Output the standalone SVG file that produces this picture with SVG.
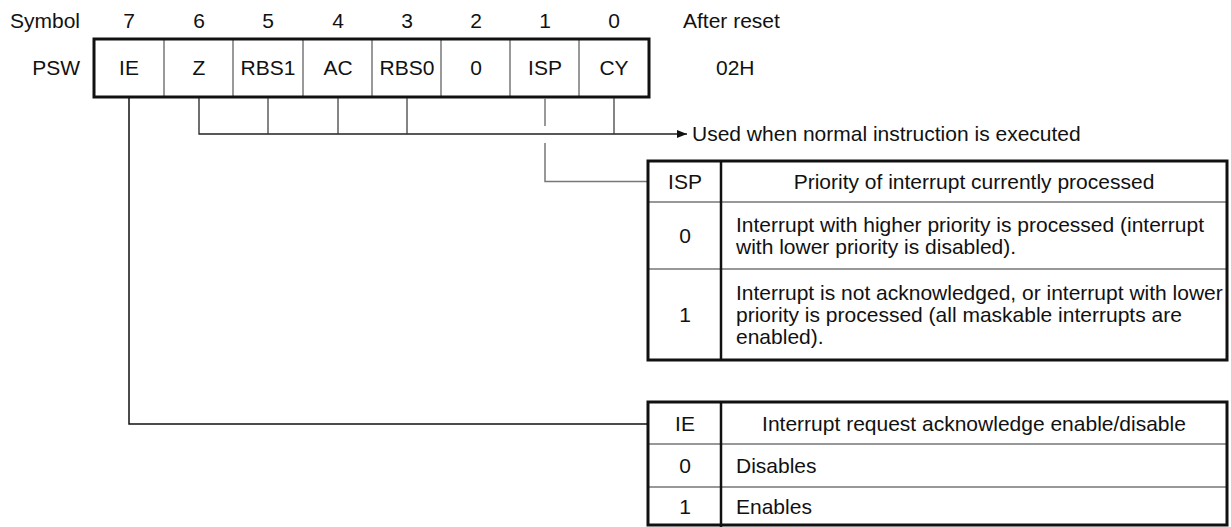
<svg xmlns="http://www.w3.org/2000/svg" width="1231" height="527" viewBox="0 0 1231 527">
<style>
text{font-family:"Liberation Sans",Arial,sans-serif;font-size:21px;fill:#111}
.c{text-anchor:middle}
.e{text-anchor:end}
.thick{fill:none;stroke:#111;stroke-width:3}
.thin{fill:none;stroke:#333;stroke-width:1.2}
.gray{fill:none;stroke:#777;stroke-width:1.5}
.conn{fill:none;stroke:#222;stroke-width:1.3}
</style>
<defs>
<marker id="arr" viewBox="0 0 10 8" refX="10" refY="4" markerWidth="10" markerHeight="8" markerUnits="userSpaceOnUse" orient="auto">
<path d="M0,0 L10,4 L0,8 Z" fill="#111"/>
</marker>
</defs>
<rect width="1231" height="527" fill="#fff"/>
<g id="labels">
<text class="e" x="80" y="28">Symbol</text>
<text class="e" x="80" y="75">PSW</text>
<text x="683" y="28">After reset</text>
<text x="716" y="75">02H</text>
<text class="c" x="129" y="28">7</text>
<text class="c" x="199" y="28">6</text>
<text class="c" x="268" y="28">5</text>
<text class="c" x="338" y="28">4</text>
<text class="c" x="407" y="28">3</text>
<text class="c" x="476" y="28">2</text>
<text class="c" x="545" y="28">1</text>
<text class="c" x="614" y="28">0</text>
<text x="692" y="141">Used when normal instruction is executed</text>
</g>
<g id="psw">
<line class="gray" x1="164" y1="39" x2="164" y2="97"/>
<line class="gray" x1="233" y1="39" x2="233" y2="97"/>
<line class="gray" x1="303" y1="39" x2="303" y2="97"/>
<line class="gray" x1="372" y1="39" x2="372" y2="97"/>
<line class="gray" x1="441" y1="39" x2="441" y2="97"/>
<line class="gray" x1="510" y1="39" x2="510" y2="97"/>
<line class="gray" x1="579" y1="39" x2="579" y2="97"/>
<rect class="thick" x="94" y="39" width="555" height="58"/>
<text class="c" x="129" y="75">IE</text>
<text class="c" x="199" y="75">Z</text>
<text class="c" x="268" y="75">RBS1</text>
<text class="c" x="338" y="75">AC</text>
<text class="c" x="407" y="75">RBS0</text>
<text class="c" x="476" y="75">0</text>
<text class="c" x="545" y="75">ISP</text>
<text class="c" x="614" y="75">CY</text>
</g>
<g id="connectors">
<path class="conn" d="M199,98 V134 H687" marker-end="url(#arr)"/>
<line class="thin" x1="268" y1="98" x2="268" y2="134"/>
<line class="thin" x1="338" y1="98" x2="338" y2="134"/>
<line class="thin" x1="407" y1="98" x2="407" y2="134"/>
<line class="thin" x1="614" y1="98" x2="614" y2="134"/>
<line class="gray" x1="545" y1="98" x2="545" y2="126"/>
<path class="gray" d="M545,143 V181.5 H648"/>
<path class="conn" d="M129,98 V424 H648" style="stroke:#111;stroke-width:1.5"/>
</g>
<g id="isp-table">
<line class="thin" x1="648" y1="202" x2="1227" y2="202"/>
<line class="thin" x1="648" y1="269" x2="1227" y2="269"/>
<line class="thick" x1="721" y1="161" x2="721" y2="360" style="stroke-width:2.5"/>
<rect class="thick" x="648" y="161" width="579" height="199"/>
<text class="c" x="685" y="188.5">ISP</text>
<text class="c" x="974" y="188.5">Priority of interrupt currently processed</text>
<text class="c" x="685" y="243">0</text>
<text x="736" y="232">Interrupt with higher priority is processed (interrupt</text>
<text x="736" y="254">with lower priority is disabled).</text>
<text class="c" x="685" y="322">1</text>
<text x="736" y="300">Interrupt is not acknowledged, or interrupt with lower</text>
<text x="736" y="322">priority is processed (all maskable interrupts are</text>
<text x="736" y="344">enabled).</text>
</g>
<g id="ie-table">
<line class="thin" x1="648" y1="444" x2="1227" y2="444"/>
<line class="thin" x1="648" y1="487" x2="1227" y2="487"/>
<line class="thick" x1="721" y1="402" x2="721" y2="527" style="stroke-width:2.5"/>
<rect class="thick" x="648" y="402" width="579" height="123"/>
<text class="c" x="685" y="430.5">IE</text>
<text class="c" x="974" y="430.5">Interrupt request acknowledge enable/disable</text>
<text class="c" x="685" y="473">0</text>
<text x="736" y="473">Disables</text>
<text class="c" x="685" y="514">1</text>
<text x="736" y="514">Enables</text>
</g>
</svg>
